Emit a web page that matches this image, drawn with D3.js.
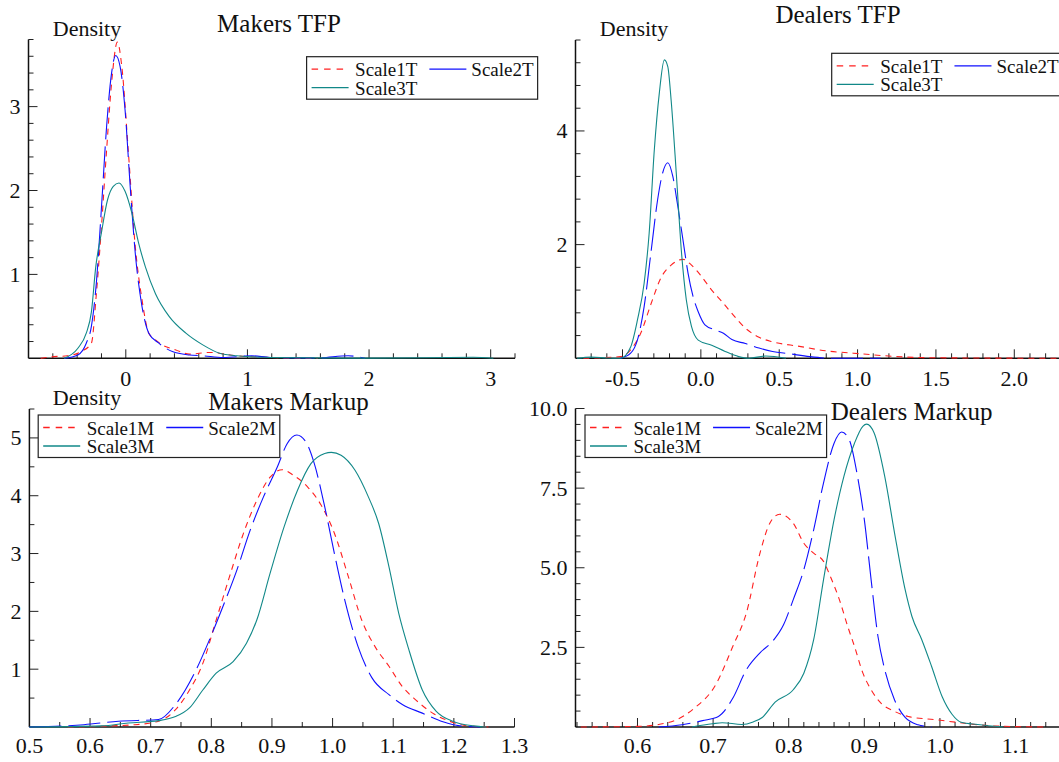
<!DOCTYPE html>
<html>
<head>
<meta charset="utf-8">
<script src="https://cdn.jsdelivr.net/npm/d3@7"></script>
<style>
  body { margin: 0; background: #fff; }
  text { font-family: "Liberation Serif", "Times New Roman", serif; fill: #111; }
</style>
</head>
<body>
<svg id="chart" width="1059" height="762"></svg>
<script>
// ---- data: [x, density] pairs ----
const makersTfpScale1 = [[-0.70,0],[-0.59,0.02],[-0.48,0.03],[-0.367,0.08],[-0.283,0.18],[-0.242,0.77],[-0.2,1.57],[-0.158,2.48],[-0.117,3.28],[-0.069,3.77],[-0.033,3.48],[0.022,2.44],[0.078,1.33],[0.133,0.7],[0.189,0.3],[0.244,0.22],[0.3,0.16],[0.411,0.1],[0.522,0.05],[0.689,0.07],[0.911,0.03],[1.19,0.01],[1.578,0]];
const makersTfpScale2 = [[-0.506,0],[-0.394,0.04],[-0.325,0.18],[-0.283,0.38],[-0.242,0.9],[-0.2,1.8],[-0.158,2.76],[-0.117,3.4],[-0.083,3.61],[-0.047,3.48],[-0.006,2.96],[0.036,2.05],[0.078,1.25],[0.133,0.62],[0.189,0.3],[0.272,0.18],[0.383,0.08],[0.522,0.04],[0.633,0.03],[0.8,0.01],[1.036,0.03],[1.189,0.01],[1.578,0.004],[1.828,0.03],[1.967,0]];
const makersTfpScale3 = [[-0.506,0],[-0.394,0.12],[-0.325,0.3],[-0.283,0.55],[-0.247,1.09],[-0.2,1.5],[-0.15,1.89],[-0.103,2.05],[-0.056,2.09],[-0.006,1.99],[0.05,1.73],[0.106,1.37],[0.161,1.09],[0.244,0.77],[0.356,0.5],[0.494,0.3],[0.633,0.16],[0.772,0.06],[0.911,0.03],[1.189,0.01],[2.02,0.002],[2.856,0.012],[3.022,0]];

const dealersTfpScale1 = [[-0.75,0],[-0.513,0.03],[-0.448,0.15],[-0.384,0.44],[-0.319,0.95],[-0.254,1.42],[-0.19,1.64],[-0.114,1.74],[-0.06,1.64],[0.004,1.44],[0.069,1.2],[0.134,1.0],[0.198,0.79],[0.284,0.53],[0.371,0.37],[0.457,0.29],[0.629,0.21],[0.802,0.13],[0.974,0.09],[1.147,0.05],[1.319,0.02],[1.491,0.01],[2.3,0]];
const dealersTfpScale2 = [[-0.513,0],[-0.448,0.09],[-0.405,0.32],[-0.362,0.91],[-0.319,1.85],[-0.276,2.79],[-0.244,3.26],[-0.211,3.44],[-0.179,3.2],[-0.147,2.67],[-0.114,2.08],[-0.082,1.5],[-0.05,1.09],[-0.017,0.82],[0.026,0.59],[0.091,0.5],[0.144,0.44],[0.198,0.33],[0.284,0.26],[0.371,0.18],[0.457,0.12],[0.565,0.08],[0.694,0.03],[0.845,0],[1.147,0]];
const dealersTfpScale3 = [[-0.79,0],[-0.7,0.02],[-0.6,0.005],[-0.513,0],[-0.448,0.2],[-0.405,0.67],[-0.362,1.32],[-0.33,2.2],[-0.297,3.67],[-0.265,4.67],[-0.233,5.25],[-0.211,5.13],[-0.19,4.55],[-0.157,3.26],[-0.125,1.91],[-0.093,1.03],[-0.06,0.56],[-0.017,0.32],[0.069,0.23],[0.155,0.12],[0.241,0.03],[0.306,0],[0.414,0.04],[0.543,0]];

const makersMarkupScale1 = [[0.563,0],[0.674,0.04],[0.713,0.1],[0.741,0.3],[0.764,0.64],[0.786,1.1],[0.808,1.85],[0.83,2.6],[0.853,3.35],[0.875,3.92],[0.897,4.32],[0.917,4.45],[0.936,4.35],[0.959,4.15],[0.981,3.84],[1.003,3.35],[1.026,2.6],[1.048,1.85],[1.07,1.39],[1.093,1.05],[1.115,0.7],[1.137,0.47],[1.165,0.24],[1.193,0.1],[1.232,0.01],[1.265,0]];
const makersMarkupScale2 = [[0.5,0],[0.59,0.04],[0.647,0.1],[0.713,0.13],[0.741,0.39],[0.775,0.99],[0.797,1.51],[0.819,2.08],[0.842,2.71],[0.864,3.4],[0.886,3.98],[0.909,4.5],[0.925,4.9],[0.941,5.05],[0.956,4.93],[0.97,4.55],[0.987,3.81],[1.003,3.0],[1.02,2.2],[1.042,1.39],[1.065,0.85],[1.093,0.56],[1.115,0.39],[1.148,0.24],[1.182,0.09],[1.21,0.02],[1.243,0]];
const makersMarkupScale3 = [[0.5,0],[0.619,0.02],[0.663,0.07],[0.713,0.11],[0.741,0.18],[0.764,0.33],[0.786,0.64],[0.808,0.93],[0.836,1.13],[0.858,1.45],[0.875,1.85],[0.897,2.66],[0.92,3.46],[0.942,4.09],[0.964,4.55],[0.987,4.73],[0.998,4.75],[1.014,4.7],[1.037,4.44],[1.059,3.98],[1.076,3.52],[1.093,2.77],[1.109,1.97],[1.126,1.33],[1.148,0.64],[1.171,0.27],[1.198,0.1],[1.232,0.02],[1.254,0]];

const dealersMarkupScale1 = [[0.525,0],[0.601,0.02],[0.628,0.08],[0.65,0.21],[0.674,0.57],[0.704,1.35],[0.726,2.53],[0.744,3.58],[0.762,5.46],[0.775,6.4],[0.788,6.68],[0.806,6.4],[0.82,5.77],[0.833,5.46],[0.846,5.2],[0.855,4.73],[0.867,4.0],[0.878,3.16],[0.887,2.53],[0.898,1.7],[0.909,1.17],[0.922,0.75],[0.94,0.49],[0.958,0.33],[0.994,0.23],[1.021,0.15],[1.038,0.1],[1.074,0.03],[1.141,0]];
const dealersMarkupScale2 = [[0.628,0],[0.659,0.07],[0.686,0.2],[0.707,0.33],[0.726,0.9],[0.744,1.8],[0.762,2.33],[0.779,2.7],[0.793,3.2],[0.806,4.0],[0.82,4.94],[0.833,6.19],[0.846,7.66],[0.86,8.91],[0.87,9.26],[0.88,9.02],[0.891,7.87],[0.9,6.51],[0.909,4.62],[0.918,2.85],[0.927,1.8],[0.94,0.85],[0.954,0.3],[0.971,0.07],[0.989,0]];
const dealersMarkupScale3 = [[0.672,0],[0.699,0.1],[0.712,0.135],[0.738,0.08],[0.753,0.16],[0.765,0.3],[0.782,0.78],[0.806,1.17],[0.82,1.69],[0.833,2.74],[0.846,4.62],[0.86,6.51],[0.873,7.87],[0.887,8.91],[0.898,9.44],[0.903,9.51],[0.913,9.23],[0.927,7.87],[0.94,6.09],[0.954,4.31],[0.963,3.47],[0.976,2.74],[0.989,1.9],[1.003,0.95],[1.016,0.4],[1.028,0.15],[1.05,0.08],[1.083,0]];

// ---- labels and ticks ----
const titles = ["Makers TFP", "Dealers TFP", "Makers Markup", "Dealers Markup"];
const tfpLabels = ["Scale1T", "Scale2T", "Scale3T"];
const markupLabels = ["Scale1M", "Scale2M", "Scale3M"];
const makersTfpXTicks = [0, 1, 2, 3];
const makersTfpYTicks = [1, 2, 3];
const dealersTfpXTicks = [-0.5, 0, 0.5, 1.0, 1.5, 2.0];
const dealersTfpYTicks = [2, 4];
const makersMarkupXTicks = [0.5, 0.6, 0.7, 0.8, 0.9, 1.0, 1.1, 1.2, 1.3];
const makersMarkupYTicks = [1, 2, 3, 4, 5];
const dealersMarkupXTicks = [0.6, 0.7, 0.8, 0.9, 1.0, 1.1];
const dealersMarkupYTicks = [2.5, 5.0, 7.5, 10.0];

const seriesStyle = [
  { color: "#ff2020", dash: "6,5", legendDash: "6.5,6" },
  { color: "#1010ff", dash: "32,7", legendDash: "none" },
  { color: "#118888", dash: "none", legendDash: "none" }
];

const int = d => String(d);
const fix1 = d => d.toFixed(1);

const panels = [
  { title: titles[0], titleX: 279, titleY: 32, density: [87, 36],
    xDomain: [-0.8, 3.2], xRange: [28.5, 515], yDomain: [0, 3.8], yRange: [358.3, 39.5],
    xTicks: makersTfpXTicks, xMinor: 0.2, xFmt: int, yTicks: makersTfpYTicks, yMinor: 0.2, yFmt: int,
    xLabelY: 386, series: [makersTfpScale1, makersTfpScale2, makersTfpScale3],
    labels: tfpLabels, legend: [306.6, 56.7] },
  { title: titles[1], titleX: 838, titleY: 23, density: [634, 36],
    xDomain: [-0.8, 2.3], xRange: [575.5, 1061.3], yDomain: [0, 5.6], yRange: [358.3, 40],
    xTicks: dealersTfpXTicks, xMinor: 0.1, xFmt: fix1, yTicks: dealersTfpYTicks, yMinor: 0.4, yFmt: int,
    xLabelY: 386, series: [dealersTfpScale1, dealersTfpScale2, dealersTfpScale3],
    labels: tfpLabels, legend: [831.7, 53.3] },
  { title: titles[2], titleX: 288.5, titleY: 409.5, density: [87, 404.5],
    xDomain: [0.5, 1.3], xRange: [29.4, 514.5], yDomain: [0, 5.5], yRange: [727, 409],
    xTicks: makersMarkupXTicks, xMinor: 0.05, xFmt: fix1, yTicks: makersMarkupYTicks, yMinor: 0.5, yFmt: int,
    xLabelY: 753, series: [makersMarkupScale1, makersMarkupScale2, makersMarkupScale3],
    labels: markupLabels, legend: [38.2, 415] },
  { title: titles[3], titleX: 911.7, titleY: 419.5, density: null,
    xDomain: [0.518, 1.16], xRange: [575.5, 1060.9], yDomain: [0, 10], yRange: [727, 408.5],
    xTicks: dealersMarkupXTicks, xMinor: 0.02, xFmt: fix1, yTicks: dealersMarkupYTicks, yMinor: 0.5, yFmt: fix1,
    xLabelY: 753, series: [dealersMarkupScale1, dealersMarkupScale2, dealersMarkupScale3],
    labels: markupLabels, legend: [585, 415] }
];

const svg = d3.select("#chart");

// minor tick positions as integer multiples of the step, inside the domain
function minorTicks(domain, step) {
  const lo = Math.ceil(domain[0] / step - 1e-6), hi = Math.floor(domain[1] / step + 1e-6);
  return d3.range(lo, hi + 1).map(i => +(i * step).toFixed(4)).filter(v => v > domain[0] + 1e-6);
}

function drawPanel(p) {
  const x = d3.scaleLinear().domain(p.xDomain).range(p.xRange);
  const y = d3.scaleLinear().domain(p.yDomain).range(p.yRange);
  const g = svg.append("g");
  const x0 = p.xRange[0], y0 = p.yRange[0];

  // ticks (drawn inward)
  const isMajor = (v, list) => list.some(t => Math.abs(t - v) < 1e-6);
  g.append("g").selectAll("line").data(minorTicks(p.xDomain, p.xMinor)).enter().append("line")
    .attr("x1", d => x(d)).attr("x2", d => x(d))
    .attr("y1", y0).attr("y2", d => y0 - (isMajor(d, p.xTicks) ? 9 : 5))
    .attr("stroke", "#222").attr("stroke-width", 1);
  g.append("g").selectAll("line").data(minorTicks(p.yDomain, p.yMinor)).enter().append("line")
    .attr("y1", d => y(d)).attr("y2", d => y(d))
    .attr("x1", x0).attr("x2", d => x0 + (isMajor(d, p.yTicks) ? 9 : 5))
    .attr("stroke", "#222").attr("stroke-width", 1);

  // axis lines
  g.append("line").attr("x1", x0).attr("x2", p.xRange[1]).attr("y1", y0).attr("y2", y0)
    .attr("stroke", "#111").attr("stroke-width", 1.5);
  g.append("line").attr("x1", x0).attr("x2", x0).attr("y1", y0).attr("y2", p.yRange[1])
    .attr("stroke", "#111").attr("stroke-width", 1.5);

  // tick labels
  g.append("g").selectAll("text").data(p.xTicks).enter().append("text")
    .attr("x", d => x(d)).attr("y", p.xLabelY)
    .attr("text-anchor", "middle").attr("font-size", 22)
    .text(p.xFmt);
  g.append("g").selectAll("text").data(p.yTicks).enter().append("text")
    .attr("x", x0 - 8).attr("y", d => y(d)).attr("dy", "0.34em")
    .attr("text-anchor", "end").attr("font-size", 22)
    .text(p.yFmt);

  // curves
  const line = d3.line().x(d => x(d[0])).y(d => y(d[1])).curve(d3.curveMonotoneX);
  p.series.forEach((s, i) => {
    g.append("path").datum(s)
      .attr("d", line)
      .attr("fill", "none")
      .style("stroke", seriesStyle[i].color)
      .style("stroke-width", 1.1)
      .style("stroke-dasharray", seriesStyle[i].dash);
  });

  // title and density label
  g.append("text").attr("x", p.titleX).attr("y", p.titleY)
    .attr("text-anchor", "middle").attr("font-size", 25).text(p.title);
  if (p.density) {
    g.append("text").attr("x", p.density[0]).attr("y", p.density[1])
      .attr("text-anchor", "middle").attr("font-size", 22).text("Density");
  }

  // legend
  const lg = g.append("g").attr("transform", `translate(${p.legend[0]},${p.legend[1]})`);
  const box = lg.append("rect").attr("height", 42.5)
    .attr("fill", "#fff").attr("stroke", "#222").attr("stroke-width", 1.2);
  const t1 = lg.append("text").attr("x", 48.5).attr("y", 19.5).attr("font-size", 19).text(p.labels[0]);
  const w1 = t1.node().getComputedTextLength();
  const col2 = 48.5 + w1 + 12;
  const t2 = lg.append("text").attr("x", col2 + 42).attr("y", 19.5).attr("font-size", 19).text(p.labels[1]);
  lg.append("text").attr("x", 48.5).attr("y", 38).attr("font-size", 19).text(p.labels[2]);
  const w2 = t2.node().getComputedTextLength();
  box.attr("width", col2 + 42 + w2 + 4);
  const samples = [[5, 12.5], [col2, 12.5], [5, 31]];
  samples.forEach((pos, i) => {
    lg.append("line")
      .attr("x1", pos[0]).attr("x2", pos[0] + 37)
      .attr("y1", pos[1]).attr("y2", pos[1])
      .style("stroke", seriesStyle[i].color).style("stroke-width", 1.3)
      .style("stroke-dasharray", seriesStyle[i].legendDash);
  });
}

panels.forEach(drawPanel);
</script>
</body>
</html>
